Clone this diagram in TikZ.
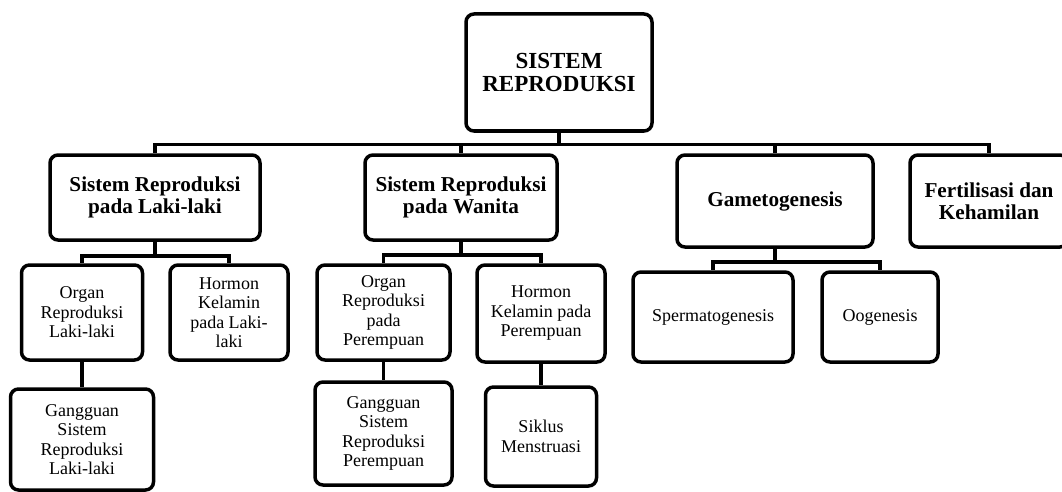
\documentclass[tikz,border=0pt]{standalone}
\usepackage{fontspec}
\setmainfont{Liberation Serif}
\usepackage{tikz}

\begin{document}
\begin{tikzpicture}[x=1pt,y=-1pt,
		box/.style={draw, line width=3.5pt, rounded corners=8pt, inner sep=0pt, align=center},
		topbox/.style={box, font=\bfseries\fontsize{23}{23.5}\selectfont},
		mainbox/.style={box, font=\bfseries\fontsize{21.2}{22}\selectfont},
		subbox/.style={box, font=\fontsize{18}{19.5}\selectfont},
		link/.style={line width=3.5pt}
	]
		\useasboundingbox (0,0) rectangle (1062,492);
		
		\node [topbox, minimum width=186pt, minimum height=117pt] (root) at (559,72.5) {SISTEM\\REPRODUKSI};
		
		\node [mainbox, minimum width=210pt, minimum height=85pt] (lk) at (155,197.5) {Sistem Reproduksi\\pada Laki-laki};
		\node [mainbox, minimum width=192pt, minimum height=85pt] (wn) at (461,197.5) {Sistem Reproduksi\\pada Wanita};
		\node [mainbox, minimum width=196pt, minimum height=92pt] (gm) at (775,201) {Gametogenesis};
		\node [mainbox, minimum width=158pt, minimum height=92pt] (fk) at (989,201) {Fertilisasi dan\\Kehamilan};
		
		\node [subbox, minimum width=121pt, minimum height=95pt] (olk) at (82,312.5) {Organ\\Reproduksi\\Laki-laki};
		\node [subbox, minimum width=118pt, minimum height=95pt] (hlk) at (229,312.5) {Hormon\\Kelamin\\pada Laki-\\laki};
		\node [subbox, minimum width=143pt, minimum height=101pt] (glk) at (82,439.5) {Gangguan\\Sistem\\Reproduksi\\Laki-laki};
		
		\node [subbox, minimum width=133pt, minimum height=95pt] (opr) at (383.5,312.5) {Organ\\Reproduksi\\pada\\Perempuan};
		\node [subbox, minimum width=128pt, minimum height=97pt] (hpr) at (541,313.5) {Hormon\\Kelamin pada\\Perempuan};
		\node [subbox, minimum width=137pt, minimum height=103pt] (gpr) at (383.5,433.5) {Gangguan\\Sistem\\Reproduksi\\Perempuan};
		\node [subbox, minimum width=111pt, minimum height=99pt] (sik) at (541,436.5) {Siklus\\Menstruasi};
		
		\node [subbox, minimum width=160pt, minimum height=90pt] (spg) at (713,317) {Spermatogenesis};
		\node [subbox, minimum width=116pt, minimum height=90pt] (oog) at (880,317) {Oogenesis};
		
		\draw [link] (root.south) -- ++(0,11.5) -| (lk.north);
		\draw [link] (root.south) -- ++(0,11.5) -| (wn.north);
		\draw [link] (root.south) -- ++(0,11.5) -| (gm.north);
		\draw [link] (root.south) -- ++(0,11.5) -| (fk.north);
		
		\draw [link] (lk.south) -- ++(0,14) -| (olk.north);
		\draw [link] (lk.south) -- ++(0,14) -| (hlk.north);
		\draw [link] (olk.south) -- (glk.north);
		
		\draw [link] (wn.south) -- ++(0,13) -| (opr.north);
		\draw [link] (wn.south) -- ++(0,13) -| (hpr.north);
		\draw [link] (opr.south) -- (gpr.north);
		\draw [link] (hpr.south) -- (sik.north);
		
		\draw [link] (gm.south) -- ++(0,13) -| (spg.north);
		\draw [link] (gm.south) -- ++(0,13) -| (oog.north);
\end{tikzpicture}
\end{document}
